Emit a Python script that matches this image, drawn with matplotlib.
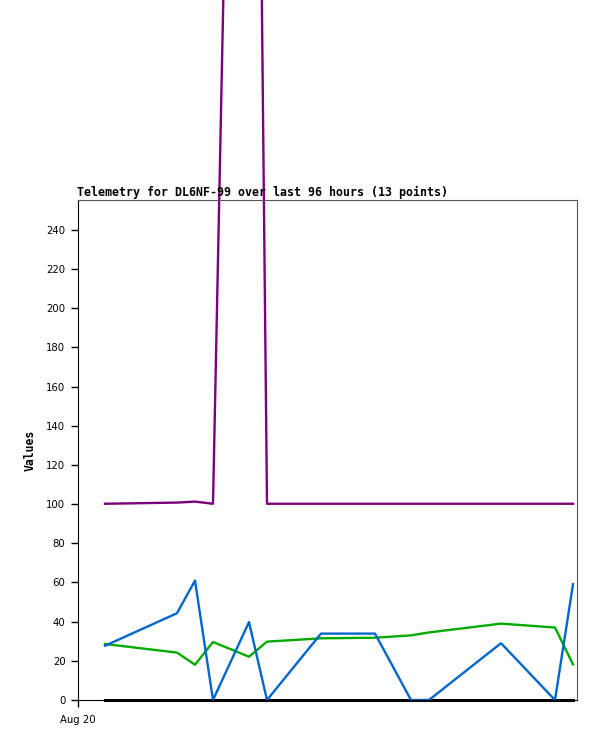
import matplotlib
matplotlib.use('Agg')
import matplotlib.pyplot as plt

# hours since Aug 20 00:00
hours = [5.4, 19.8, 23.4, 27.0, 34.2, 37.8, 48.6, 59.4, 66.6, 70.2, 84.6, 95.4, 99.0]

purple_vals = [100.2, 100.8, 101.3, 100.2, 1000, 100.2, 100.2, 100.2, 100.2, 100.2, 100.2, 100.2, 100.2]
blue_vals = [27.7, 44.3, 61.0, 0.0, 39.8, 0.0, 33.9, 33.9, 0.0, 0.0, 29.0, 0.0, 59.1]
green_vals = [28.6, 24.2, 18.0, 29.6, 22.1, 29.8, 31.5, 31.8, 33.0, 34.5, 39.0, 37.0, 18.2]
black_vals = [0] * 13

y_ticks = [0, 20, 40, 60, 80, 100, 120, 140, 160, 180, 200, 220, 240]
x_tick_pos = [0]
x_tick_labels = ['Aug 20']

title = 'Telemetry for DL6NF-99 over last 96 hours (13 points)'

fig = plt.figure(figsize=(5.97, 7.41), dpi=100)
ax = fig.add_axes([78 / 597, 41 / 741, 499 / 597, 500 / 741])

# lines are not clipped: the spike runs past the top of the plot
ax.plot(hours, purple_vals, color='#7b007b', lw=1.7, clip_on=False)
ax.plot(hours, black_vals, color='black', lw=2.2, clip_on=False)
ax.plot(hours, green_vals, color='#00aa00', lw=1.7, clip_on=False)
ax.plot(hours, blue_vals, color='#0066cc', lw=1.7, clip_on=False)

ax.set_xlim(0, 99.8)
ax.set_ylim(0, 255.3)
ax.set_yticks(y_ticks)
ax.set_xticks(x_tick_pos)
ax.set_xticklabels(x_tick_labels)
ax.tick_params(axis='both', labelsize=7.3, length=5, width=1, direction='out', pad=4)
ax.tick_params(axis='x', pad=6)

ax.spines['top'].set_color('#555555')
ax.spines['right'].set_color('#555555')
ax.spines['left'].set_color('black')
ax.spines['bottom'].set_color('black')

ax.set_title(title, loc='left', fontsize=8.35, family='DejaVu Sans Mono',
             fontweight='bold', pad=3, x=-0.002)
ax.set_ylabel('Values', fontsize=8.3, family='DejaVu Sans Mono', fontweight='bold', labelpad=7)

fig.savefig('out.png', dpi=100)
